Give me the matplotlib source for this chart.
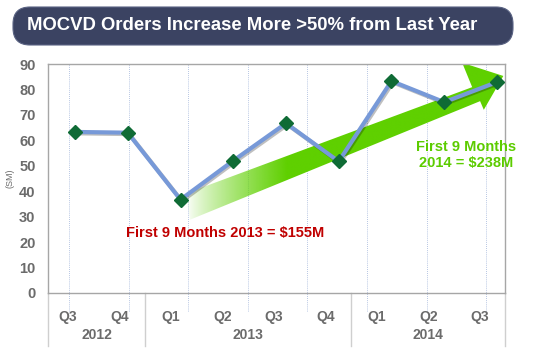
import numpy as np
import matplotlib.pyplot as plt
import matplotlib.transforms as mtransforms
from matplotlib.patches import Polygon, FancyBboxPatch
from matplotlib import patheffects
from matplotlib.colors import to_rgb

plt.rcParams['font.family'] = ['Liberation Sans', 'DejaVu Sans']

# data ($M per quarter)
quarters = ['Q3', 'Q4', 'Q1', 'Q2', 'Q3', 'Q4', 'Q1', 'Q2', 'Q3']
years = ['2012', '2013', '2014']
year_breaks = [1.5, 5.5]          # between Q4/Q1 labels
orders = [63.3, 63.0, 36.7, 52.0, 66.7, 51.7, 83.3, 75.0, 82.9]
yticks = [0, 10, 20, 30, 40, 50, 60, 70, 80, 90]

gray = '#6b6b6b'
line_blue = '#7799d8'
marker_green = '#0f6b35'
arrow_green = '#5fd000'

fig = plt.figure(figsize=(5.42, 3.5), dpi=100)
ax = fig.add_axes([48 / 542, 57 / 350, 457 / 542, 229 / 350])

x = np.arange(len(orders))
ax.set_xlim(-0.512, 8.152)
ax.set_ylim(0, 90)

# quarter labels sit slightly off the points in the original slide
lab_x = -0.133 + 0.976 * np.arange(len(quarters))
ax.set_xticks(lab_x)
ax.set_xticklabels(quarters, fontsize=10, fontweight='bold', color=gray)
ax.tick_params(axis='x', length=0, pad=12)
ax.set_yticks(yticks)
ax.set_yticklabels([str(v) for v in yticks], fontsize=10.5, fontweight='bold', color=gray)
ax.tick_params(axis='y', length=0, pad=9)

for s in ax.spines.values():
    s.set_color('#a6a6a6')
    s.set_linewidth(1)

# dotted vertical grid, extends a little under the axis
for gx in -0.11 + 1.129 * np.arange(8):
    ax.axvline(gx, ymin=-0.08, ymax=1, color='#9fb3d9', lw=0.6, ls=(0, (1, 1.5)),
               clip_on=False, zorder=0)

# year separators + labels
trans = mtransforms.blended_transform_factory(ax.transData, ax.transAxes)
sep = [ax.get_xlim()[0]] + [-0.133 + 0.976 * b for b in year_breaks] + [ax.get_xlim()[1]]
for sx in sep:
    ax.plot([sx, sx], [0, -0.23], color='#cfcfcf', lw=1, transform=trans, clip_on=False)
for i, yr in enumerate(years):
    ax.text((sep[i] + sep[i + 1]) / 2, -0.185, yr, transform=trans, ha='center', va='center',
            fontsize=10, fontweight='bold', color=gray)

# big green trend arrow with fading tail
arrow_pts = np.array([
    [2.10, 39.1], [7.53, 80.9], [7.34, 90.5], [8.12, 85.3],
    [7.75, 72.0], [7.68, 75.4], [2.18, 28.8]])
clip = Polygon(arrow_pts, closed=True, facecolor='none', edgecolor='none')
ax.add_patch(clip)
ext = (2.0, 8.2, 20, 92)
xx = np.linspace(ext[0], ext[1], 400)
alpha = np.clip((xx - 2.1) / 1.9, 0, 1) ** 0.8
img = np.zeros((2, len(xx), 4))
img[..., :3] = to_rgb(arrow_green)
img[..., 3] = alpha
im = ax.imshow(img, extent=ext, aspect='auto', origin='lower', zorder=1, interpolation='bilinear')
im.set_clip_path(clip)
ax.set_xlim(-0.512, 8.152)
ax.set_ylim(0, 90)

# order line
ax.plot(x, orders, color=line_blue, lw=3, zorder=3,
        path_effects=[patheffects.SimpleLineShadow(offset=(1, -1), alpha=0.25), patheffects.Normal()])
ax.plot(x, orders, ls='none', marker='D', ms=7, color=marker_green, zorder=4)

ax.text(2.84, 23.7, 'First 9 Months 2013 = $155M', ha='center', va='center',
        fontsize=10.5, fontweight='bold', color='#c00000', zorder=5)
ax.text(7.41, 54.3, 'First 9 Months\n2014 = $238M', ha='center', va='center',
        fontsize=10.5, fontweight='bold', color='#5ccc00', linespacing=1.15, zorder=5)

fig.text(10 / 542, 1 - 178 / 350, '(SM)', rotation=90, ha='center', va='center',
         fontsize=6.5, color=gray)

# title banner
banner = FancyBboxPatch((0.13, 3.05), 5.0, 0.38, boxstyle='round,pad=0,rounding_size=0.17',
                        transform=fig.dpi_scale_trans, facecolor='#3b4362', edgecolor='#5a6383', lw=0.8)
fig.patches.append(banner)
fig.text(0.27, 3.24, 'MOCVD Orders Increase More >50% from Last Year', transform=fig.dpi_scale_trans,
         ha='left', va='center', fontsize=13.3, fontweight='bold', color='white')

fig.savefig('out.png', dpi=100)
